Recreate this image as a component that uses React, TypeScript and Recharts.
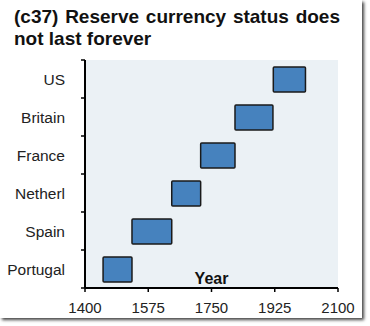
import { BarChart, Bar, XAxis, YAxis, CartesianGrid } from 'recharts';

const countries = ['US', 'Britain', 'France', 'Netherl', 'Spain', 'Portugal'];
const startYears = [1921, 1815, 1720, 1640, 1530, 1450];
const endYears = [2010, 1920, 1815, 1720, 1640, 1530];
const yearTicks = [1400, 1575, 1750, 1925, 2100];

const data = countries.map((name, i) => ({ name, span: [startYears[i], endYears[i]] }));

const font = '"Liberation Sans", Arial, sans-serif';

// category ticks sit at band edges in the original, so draw them by hand
const CountryTick = (props: any) => {
  const { x, y, payload, index } = props;
  const half = payload.offset || 0;
  const ax = x + 20;
  return (
    <g>
      <text x={x} y={y} dy="0.355em" textAnchor="end" fontSize={15.5} fill="#222" fontFamily={font}>
        {payload.value}
      </text>
      <line x1={ax - 4} x2={ax} y1={y - half} y2={y - half} stroke="#000" strokeWidth={1.5} />
      {index === countries.length - 1 && (
        <line x1={ax - 4} x2={ax} y1={y + half} y2={y + half} stroke="#000" strokeWidth={1.5} />
      )}
    </g>
  );
};

const App = () => {
  return (
    <div style={{ position: 'absolute', left: 0, top: 0, width: 362, height: 318, background: '#fff', boxShadow: '2px 2px 3px #444', fontFamily: font }}>
      <div style={{ position: 'absolute', left: 14, top: 6, width: 326, fontSize: 19, fontWeight: 'bold', lineHeight: '22px', color: '#111' }}>
        <div style={{ textAlign: 'justify', textAlignLast: 'justify' }}>(c37) Reserve currency status does</div>
        <div>not last forever</div>
      </div>
      <div style={{ position: 'absolute', left: 0, top: 0 }}>
        <BarChart width={362} height={318} data={data} layout="vertical" margin={{ top: 60, right: 24, bottom: 0, left: 0 }}>
          <CartesianGrid fill="#ebf1f5" horizontal={false} vertical={false} />
          <XAxis
            type="number"
            domain={[1400, 2100]}
            ticks={yearTicks}
            height={30}
            tickSize={4}
            tickMargin={10}
            axisLine={{ stroke: '#000', strokeWidth: 2 }}
            tickLine={{ stroke: '#000', strokeWidth: 1.5 }}
            tick={{ fontSize: 15, fill: '#222', fontFamily: font }}
            label={{ value: 'Year', position: 'top', offset: 4, fontSize: 16, fontWeight: 'bold', fill: '#111', fontFamily: font }}
          />
          <YAxis
            type="category"
            dataKey="name"
            width={85}
            tickSize={0}
            tickMargin={20}
            tickLine={false}
            axisLine={{ stroke: '#000', strokeWidth: 2 }}
            tick={<CountryTick />}
          />
          <Bar dataKey="span" barSize={25} fill="#4682be" stroke="#1a1a1a" strokeWidth={1.5} radius={1} isAnimationActive={false} />
        </BarChart>
      </div>
    </div>
  );
};

export default App;
